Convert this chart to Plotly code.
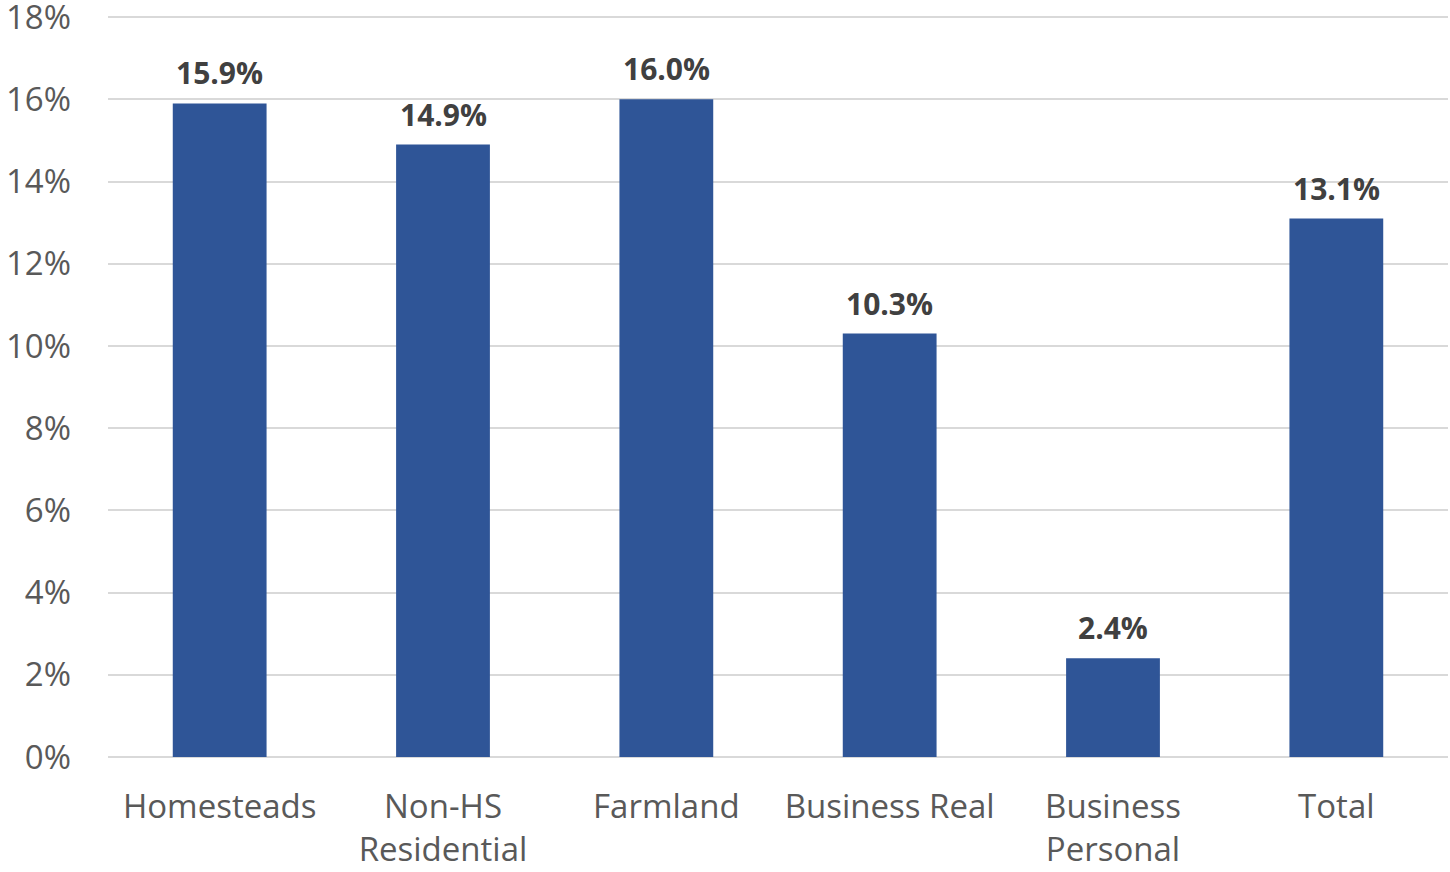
import plotly.graph_objects as go

categories = ["Homesteads", "Non-HS<br>Residential", "Farmland", "Business Real", "Business<br>Personal", "Total"]
values = [15.9, 14.9, 16.0, 10.3, 2.4, 13.1]
labels = ["15.9%", "14.9%", "16.0%", "10.3%", "2.4%", "13.1%"]
tick_vals = [0, 2, 4, 6, 8, 10, 12, 14, 16, 18]
tick_text = ["0%", "2%", "4%", "6%", "8%", "10%", "12%", "14%", "16%", "18%"]

FONT = "Open Sans"

fig = go.Figure(go.Bar(
    x=categories, y=values,
    marker=dict(color="#2F5597", line=dict(width=0)),
    width=0.42,
))

for c, v, t in zip(categories, values, labels):
    fig.add_annotation(x=c, y=v, text=t, showarrow=False, yanchor="bottom",
                       yshift=8, font=dict(family=FONT, size=30, color="#404040", weight="bold"))

fig.update_layout(
    width=1450, height=872,
    margin=dict(l=108, r=2, t=13, b=115, autoexpand=False),
    paper_bgcolor="white", plot_bgcolor="white",
    showlegend=False,
    font=dict(family=FONT, color="#595959"),
)
fig.update_yaxes(range=[0, 18.1], tickvals=tick_vals, ticktext=tick_text,
                 tickfont=dict(size=33, color="#595959"),
                 showgrid=True, gridcolor="#d9d9d9", gridwidth=1.5,
                 zeroline=True, zerolinecolor="#d9d9d9", zerolinewidth=1.5,
                 ticklabelstandoff=36, showline=False, ticklabeloverflow="allow",
                 automargin=False)
fig.update_xaxes(tickfont=dict(size=33, color="#595959"), showline=False,
                 ticklabelstandoff=27, automargin=False)

fig.write_html("out.html")
